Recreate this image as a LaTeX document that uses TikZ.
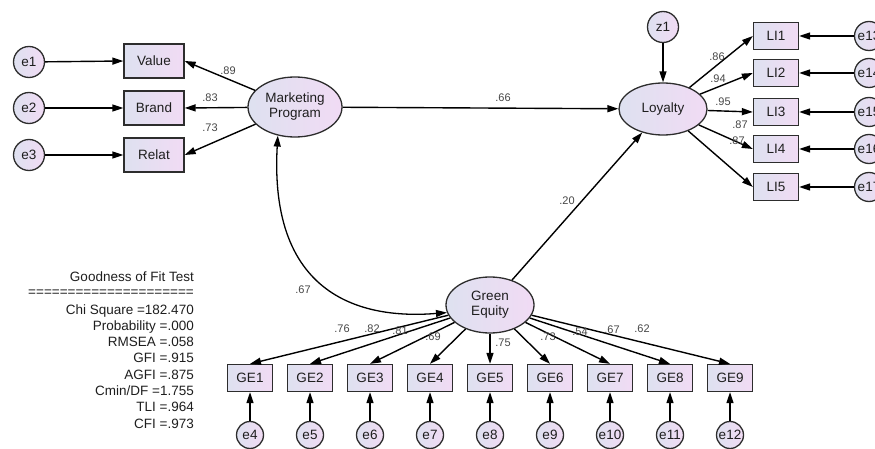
\documentclass[tikz,border=0pt]{standalone}
\usepackage{fontspec}
\setmainfont{Liberation Sans}
\usetikzlibrary{arrows.meta,shapes.geometric}
\definecolor{fillL}{RGB}{222,225,240}
\definecolor{fillR}{RGB}{241,219,244}
\definecolor{edgec}{RGB}{45,45,45}
\definecolor{txtc}{RGB}{30,30,30}
\definecolor{labc}{RGB}{70,70,70}
\begin{document}
\begin{tikzpicture}[x=1pt,y=-1pt,
  every node/.style={inner sep=0pt, text=txtc},
  nodefont/.style={font=\fontsize{13.5}{15}\selectfont},
  obs/.style={draw=edgec, line width=1.3pt, rectangle, minimum width=45pt, minimum height=27pt, left color=fillL, right color=fillR, nodefont},
  obsw/.style={obs, minimum width=60pt, minimum height=34pt},
  lat/.style={draw=edgec, line width=1.3pt, ellipse, left color=fillL, right color=fillR, nodefont, align=center},
  err/.style={draw=edgec, line width=1.3pt, circle, left color=fillL, right color=fillR, nodefont},
  arr/.style={line width=1.4pt, draw=black, -{Triangle[length=11pt,width=7pt]}},
  dbl/.style={line width=1.3pt, draw=black, {Triangle[length=11pt,width=7pt]}-{Triangle[length=11pt,width=7pt]}},
  coef/.style={font=\fontsize{11}{12}\selectfont, text=labc},
  stat/.style={font=\fontsize{13.5}{15}\selectfont, anchor=base east},
]
\useasboundingbox (0,0) rectangle (875,449);

% latent variables
\node[lat, minimum width=94pt, minimum height=60pt] (mp) at (295,107) {Marketing\\Program};
\node[lat, minimum width=88pt, minimum height=52pt] (loy) at (663,109) {Loyalty};
\node[lat, minimum width=88pt, minimum height=56pt] (ge) at (490,305) {Green\\Equity};

% marketing indicators
\node[obsw] (value) at (154,61) {Value};
\node[obsw] (brand) at (154,108) {Brand};
\node[obsw] (relat) at (154,155) {Relat};
\node[err, minimum size=31pt] (e1) at (29,62) {e1};
\node[err, minimum size=31pt] (e2) at (29,108) {e2};
\node[err, minimum size=31pt] (e3) at (29,155) {e3};

% loyalty indicators
\node[err, minimum size=31pt] (z1) at (663,27) {z1};
\foreach \i/\y/\e in {1/36/13,2/73/14,3/112/15,4/149/16,5/187/17}{
  \node[obs] (li\i) at (776,\y) {LI\i};
  \node[err, minimum size=29pt] (e\e) at (869,\y) {e\e};
  \draw[arr] (e\e) -- (li\i.east);
  \draw[arr] (loy) -- (li\i.west);
}

% green equity indicators
\foreach \i [evaluate=\i as \x using 250+60*(\i-1), evaluate=\i as \e using int(\i+3)] in {1,...,9}{
  \node[obs] (ge\i) at (\x,378) {GE\i};
  \node[err, minimum size=27pt] (e\e) at (\x,435) {e\e};
  \draw[arr] (e\e) -- (ge\i.south);
  \draw[arr] (ge) -- (ge\i.north);
}

% paths
\draw[arr] (e1) -- (value.west);
\draw[arr] (e2) -- (brand.west);
\draw[arr] (e3) -- (relat.west);
\draw[arr] (mp) -- (value.east);
\draw[arr] (mp) -- (brand.east);
\draw[arr] (mp) -- (relat.east);
\draw[arr] (mp) -- (loy);
\draw[arr] (ge) -- (loy);
\draw[arr] (z1) -- (loy);
\draw[dbl] (mp.239) .. controls (268,310) and (380,318) .. (ge.190);

% coefficients
\node[coef] (c1) at (228,71) {.89};
\node[coef] (c2) at (210,98) {.83};
\node[coef] (c3) at (210,128) {.73};
\node[coef] (c4) at (503,98) {.66};
\node[coef] (c5) at (567,201) {.20};
\node[coef] (c6) at (303,290) {.67};
\node[coef] (c7) at (717,57) {.86};
\node[coef] (c8) at (718,79) {.94};
\node[coef] (c9) at (723,102) {.95};
\node[coef] (c10) at (740,125) {.87};
\node[coef] (c11) at (737,141) {.87};
\node[coef] (c12) at (342,329) {.76};
\node[coef] (c13) at (372,329) {.82};
\node[coef] (c14) at (400,331) {.81};
\node[coef] (c15) at (433,337) {.69};
\node[coef] (c16) at (503,343) {.75};
\node[coef] (c17) at (548,337) {.73};
\node[coef] (c18) at (580,332) {.54};
\node[coef] (c19) at (612,330) {.67};
\node[coef] (c20) at (642,329) {.62};

% fit statistics
\node[stat] (s1) at (194,281) {Goodness of Fit Test};
\node[stat] (s2) at (194,296.5) {=====================};
\node[stat] (s3) at (194,314) {Chi Square =182.470};
\node[stat] (s4) at (194,330.3) {Probability =.000};
\node[stat] (s5) at (194,346.6) {RMSEA =.058};
\node[stat] (s6) at (194,362.9) {GFI =.915};
\node[stat] (s7) at (194,379.2) {AGFI =.875};
\node[stat] (s8) at (194,395.5) {Cmin/DF =1.755};
\node[stat] (s9) at (194,411.8) {TLI =.964};
\node[stat] (s10) at (194,428.1) {CFI =.973};
\end{tikzpicture}
\end{document}
